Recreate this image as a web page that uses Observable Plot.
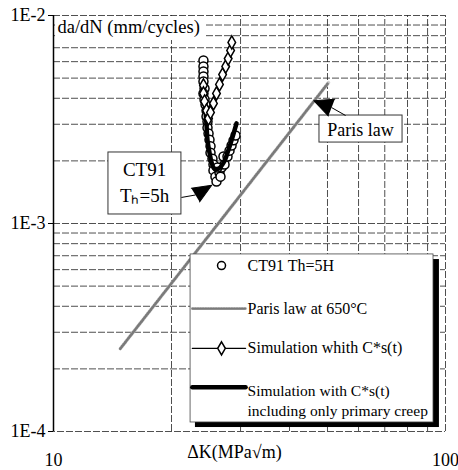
<!DOCTYPE html>
<html><head><meta charset="utf-8">
<script src="https://cdn.jsdelivr.net/npm/d3@7"></script>
<script src="https://cdn.jsdelivr.net/npm/@observablehq/plot@0.6"></script>
<style>body{margin:0;background:#fff}</style>
</head><body><div id="chart"></div>
<script>
// Experimental data: CT91 Th=5H (ΔK in MPa√m, da/dN in mm/cycle)
const ctDK = [24.13,24.13,24.13,24.13,24.13,24.28,24.13,24.28,24.42,24.57,24.57,24.71,24.71,24.86,25.00,25.15,25.15,25.44,25.59,25.59,25.89,26.05,26.51,26.83,27.31,27.14,27.79,28.12,28.46,28.79,29.13,26.20,26.67];
const ctRate = [6.08e-3,5.69e-3,5.38e-3,5.09e-3,4.82e-3,4.46e-3,4.22e-3,3.95e-3,3.73e-3,3.49e-3,3.27e-3,3.09e-3,2.89e-3,2.71e-3,2.53e-3,2.35e-3,2.19e-3,2.05e-3,1.92e-3,1.80e-3,1.68e-3,1.59e-3,1.76e-3,1.86e-3,1.92e-3,2.10e-3,2.10e-3,2.24e-3,2.37e-3,2.51e-3,2.65e-3,1.86e-3,1.68e-3];
// Paris law at 650°C
const parisDK = [14.8, 50.3];
const parisRate = [2.5e-4, 4.76e-3];
// Simulation with C*s(t)
const simDK = [24.13,24.13,24.28,24.57,24.86,25.15,25.59,26.05,26.51,27.00,27.5,27.9,28.3,28.5];
const simRate = [4.61e-3,4.22e-3,3.86e-3,3.49e-3,3.20e-3,3.42e-3,3.78e-3,4.22e-3,4.66e-3,5.20e-3,5.69e-3,6.21e-3,6.79e-3,7.42e-3];
// Simulation with C*s(t) including only primary creep
const primDK = [24.28,24.42,24.57,24.71,25.00,25.3,25.7,26.4,27.2,27.9,28.6,29.3];
const primRate = [3.99e-3,3.49e-3,2.96e-3,2.51e-3,2.19e-3,1.97e-3,1.84e-3,1.84e-3,1.97e-3,2.24e-3,2.59e-3,3.03e-3];
// Axis ticks and grid
const xGrid = [20,30,40,50,60,70,80,90];
const yGrid = [2e-4,3e-4,4e-4,5e-4,6e-4,7e-4,8e-4,9e-4,1e-3,2e-3,3e-3,4e-3,5e-3,6e-3,7e-3,8e-3,9e-3];
const yTicks = [1e-4,1e-3,1e-2];
const yTickLabels = ["1E-4","1E-3","1E-2"];
const xTicks = [10,100];
const xTickLabels = ["10","100"];
const legendLabels = ["CT91 Th=5H","Paris law at 650°C","Simulation whith C*s(t)","Simulation with C*s(t)","including only primary creep"];

const tbl = (xs, ys) => xs.map((x,i)=>({x, y: ys[i]}));
const ct = tbl(ctDK, ctRate);
const paris = tbl(parisDK, parisRate);
const sim = tbl(simDK, simRate);
const prim = tbl(primDK, primRate);

const serif = "Liberation Serif, Times New Roman, serif";
const gridStyle = {stroke:"#222", strokeWidth:0.8, strokeDasharray:"7,2"};

// annotation anchors (data units)
const lgX0 = 22.37, lgX1 = 93.2, lgY0 = 1.105e-4, lgY1 = 7.10e-4;
const lgRows = [6.28e-4, 3.90e-4, 2.51e-4, 1.63e-4];
const lgTextX = 31.26, lgSampleX0 = 22.6, lgSampleX1 = 30.9, lgMarkX = 26.83;

const parisStyle = (w) => [
  {stroke: "#d0d0d0", strokeWidth: w},
  {stroke: "#7a7a7a", strokeWidth: w - 0.8, strokeDasharray: "1,1.6"}
];

const chart = Plot.plot({
  width: 458, height: 470,
  marginLeft: 53, marginRight: 13, marginTop: 15, marginBottom: 39,
  x: {type: "log", domain: [10, 100], axis: null},
  y: {type: "log", domain: [1e-4, 1e-2], axis: null},
  style: {fontFamily: serif, background: "white", color: "black"},
  marks: [
    Plot.ruleX(xGrid, {y1: () => 1e-4, y2: () => 1e-2, ...gridStyle}),
    Plot.ruleY(yGrid, {x1: () => 10, x2: () => 100, ...gridStyle}),
    Plot.ruleY([1e-4], {x1: () => 9.71, x2: () => 100, ...gridStyle}),
    Plot.ruleY([1e-2], {x1: () => 10, x2: () => 100, ...gridStyle}),
    Plot.ruleX([100], {y1: () => 1e-4, y2: () => 1e-2, ...gridStyle}),
    Plot.ruleY(yTicks, {x1: () => 9.71, x2: () => 10, stroke: "black", strokeWidth: 1}),
    Plot.ruleX([10], {y1: () => 1e-4, y2: () => 1e-2, stroke: "black", strokeWidth: 1.5}),
    // y label with white background
    Plot.rect([{x1: 10.12, x2: 24.42, y1: 7.58e-3, y2: 9.89e-3}], {x1:"x1", x2:"x2", y1:"y1", y2:"y2", fill: "white"}),
    Plot.text(["da/dN (mm/cycles)"], {x: () => 10, y: () => 1e-2, text: d => d, dx: 4, dy: 12, textAnchor: "start", fontSize: 18.5}),
    // tick labels
    Plot.text(yTicks, {x: () => 10, y: d => d, text: (d,i) => yTickLabels[i], dx: -8, textAnchor: "end", fontSize: 18}),
    Plot.text(xTicks, {x: d => d, y: () => 1e-4, text: (d,i) => xTickLabels[i], dy: 29, fontSize: 18}),
    Plot.text(["ΔK(MPa√m)"], {x: () => 28.95, y: () => 1e-4, text: d => d, dy: 21, fontSize: 18}),
    // Paris law
    ...parisStyle(3.5).map(s => Plot.line(paris, {x: "x", y: "y", ...s})),
    // experimental
    Plot.dot(ct, {x: "x", y: "y", r: 4.5, stroke: "black", strokeWidth: 1.5, fill: "white"}),
    // primary creep simulation
    Plot.line(prim, {x: "x", y: "y", stroke: "black", strokeWidth: 4.5, curve: "catmull-rom"}),
    // simulation C*s(t)
    Plot.line(sim, {x: "x", y: "y", stroke: "black", strokeWidth: 1.3}),
    Plot.dot(sim, {x: "x", y: "y", symbol: "diamond", r: 4, stroke: "black", strokeWidth: 1.5, fill: "white"}),
    // CT91 annotation
    Plot.rect([{x1: 13.81, x2: 21.2, y1: 1.105e-3, y2: 2.195e-3}], {x1:"x1", x2:"x2", y1:"y1", y2:"y2", fill: "white", stroke: "#333", strokeWidth: 1}),
    Plot.text(["CT91"], {x: () => 17.07, y: () => 1.80e-3, text: d => d, fontSize: 19}),
    Plot.text(["Tₕ=5h"], {x: () => 17.07, y: () => 1.364e-3, text: d => d, fontSize: 19}),
    Plot.link([{x1: 21.2, y1: 1.334e-3, x2: 23.02, y2: 1.371e-3}], {x1:"x1", y1:"y1", x2:"x2", y2:"y2", stroke: "black", strokeWidth: 1}),
    Plot.vector([{x: 23.02, y: 1.371e-3}], {x: "x", y: "y", shape: "spike", anchor: "start", length: 19, r: 8, rotate: 59, fill: "black", fillOpacity: 1, stroke: "black", strokeWidth: 1}),
    // Paris law annotation
    Plot.rect([{x1: 47.7, x2: 77.7, y1: 2.45e-3, y2: 3.305e-3}], {x1:"x1", x2:"x2", y1:"y1", y2:"y2", fill: "white", stroke: "#333", strokeWidth: 1}),
    Plot.text(["Paris law"], {x: () => 60.7, y: () => 2.80e-3, text: d => d, fontSize: 18}),
    Plot.link([{x1: 55.6, y1: 3.305e-3, x2: 51.2, y2: 3.61e-3}], {x1:"x1", y1:"y1", x2:"x2", y2:"y2", stroke: "black", strokeWidth: 1}),
    Plot.vector([{x: 51.2, y: 3.61e-3}], {x: "x", y: "y", shape: "spike", anchor: "start", length: 19, r: 9, rotate: 291, fill: "black", fillOpacity: 1, stroke: "black", strokeWidth: 1}),
    // Legend
    Plot.rect([{x1: 23.02, x2: 96.5, y1: 1.045e-4, y2: 6.71e-4}], {x1:"x1", x2:"x2", y1:"y1", y2:"y2", fill: "black"}),
    Plot.rect([{x1: lgX0, x2: lgX1, y1: lgY0, y2: lgY1}], {x1:"x1", x2:"x2", y1:"y1", y2:"y2", fill: "white", stroke: "#444", strokeWidth: 0.8}),
    Plot.dot([{x: lgMarkX, y: lgRows[0]}], {x:"x", y:"y", r: 4, stroke: "black", strokeWidth: 1.5, fill: "white"}),
    ...parisStyle(3).map(s => Plot.line([{x: lgSampleX0, y: lgRows[1]}, {x: lgSampleX1, y: lgRows[1]}], {x:"x", y:"y", ...s})),
    Plot.line([{x: lgSampleX0, y: lgRows[2]}, {x: lgSampleX1, y: lgRows[2]}], {x:"x", y:"y", stroke: "black", strokeWidth: 1.3}),
    Plot.dot([{x: lgMarkX, y: lgRows[2]}], {x:"x", y:"y", symbol: "diamond", r: 4, stroke: "black", strokeWidth: 1.5, fill: "white"}),
    Plot.line([{x: lgSampleX0, y: lgRows[3]}, {x: lgSampleX1, y: lgRows[3]}], {x:"x", y:"y", stroke: "black", strokeWidth: 4.5}),
    Plot.text([0,1,2], {x: () => lgTextX, y: i => lgRows[i], text: i => legendLabels[i], textAnchor: "start", fontSize: 16}),
    Plot.text([3,4], {x: () => lgTextX, y: i => [1.56e-4, 1.26e-4][i-3], text: i => legendLabels[i], textAnchor: "start", fontSize: 15.5})
  ]
});
document.getElementById("chart").append(chart);
</script>
</body></html>
